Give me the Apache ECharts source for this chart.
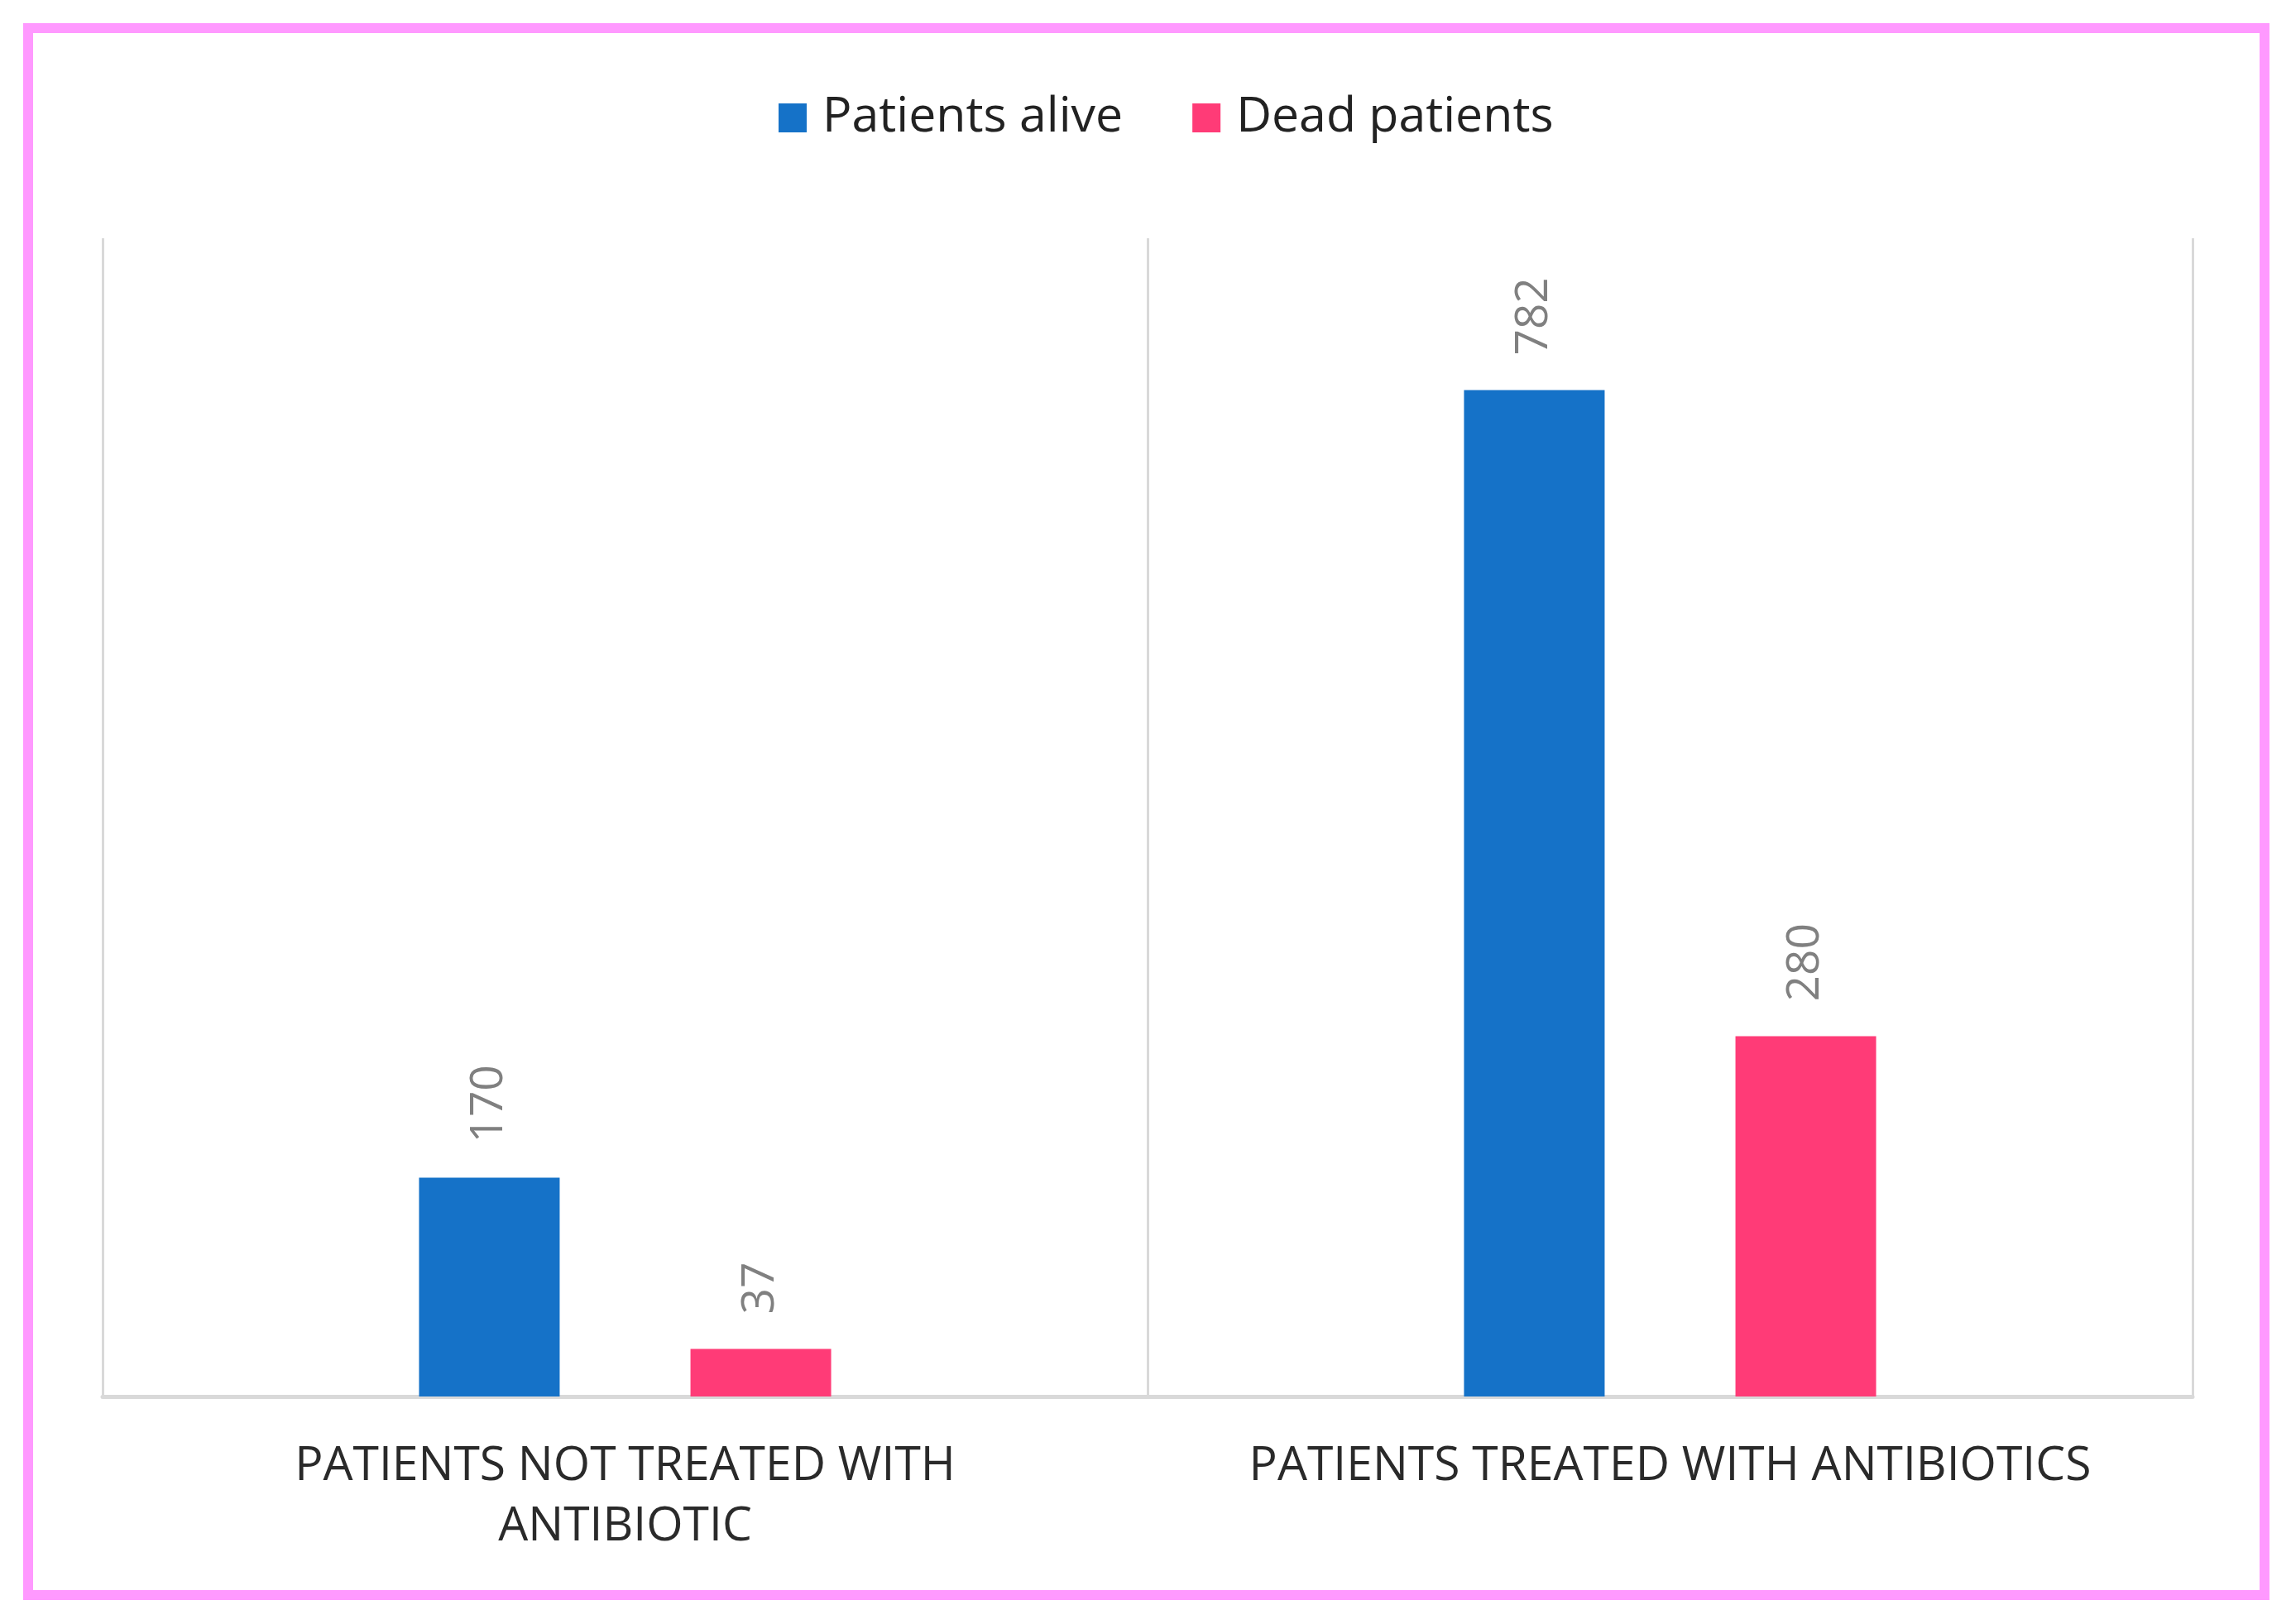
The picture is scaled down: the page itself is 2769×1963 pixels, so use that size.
<!DOCTYPE html>
<html>
<head>
<meta charset="utf-8">
<script src="https://cdn.jsdelivr.net/npm/echarts@6/dist/echarts.min.js"></script>
<style>
  html, body { margin: 0; padding: 0; background: #ffffff; }
  #chart { position: absolute; left: 0; top: 0; width: 2769px; height: 1963px; }
  #frame { position: absolute; left: 28px; top: 28px; width: 2715px; height: 1906px;
           box-sizing: border-box; border: 12px solid #ff99ff; pointer-events: none; }
</style>
</head>
<body>
<div id="chart"></div>
<div id="frame"></div>
<script>
const categories = ['PATIENTS NOT TREATED WITH ANTIBIOTIC', 'PATIENTS TREATED WITH ANTIBIOTICS'];
const seriesNames = ['Patients alive', 'Dead patients'];
const aliveValues = [170, 782];
const deadValues = [37, 280];
const yMax = 900;

function wrapWords(text, maxChars) {
  const words = text.split(' ');
  const lines = [];
  let cur = '';
  words.forEach(w => {
    const next = cur ? cur + ' ' + w : w;
    if (next.length > maxChars && cur) { lines.push(cur); cur = w; }
    else { cur = next; }
  });
  if (cur) lines.push(cur);
  return lines.join('\n');
}

const FONT = 'Open Sans';
const labelCfg = {
  show: true,
  position: 'top',
  rotate: 90,
  align: 'left',
  verticalAlign: 'middle',
  distance: 42,
  fontFamily: FONT,
  fontSize: 55,
  color: '#808080'
};

const chart = echarts.init(document.getElementById('chart'), null, { renderer: 'canvas' });
chart.setOption({
  animation: false,
  backgroundColor: '#ffffff',
  legend: {
    data: seriesNames,
    left: 936,
    top: 108,
    itemWidth: 34,
    itemHeight: 35,
    itemGap: 84,
    icon: 'rect',
    textStyle: { fontFamily: FONT, fontSize: 59, color: '#222222', padding: [0, 0, 0, 14] }
  },
  grid: { left: 124, right: 119, top: 288, bottom: 275, containLabel: false },
  xAxis: {
    type: 'category',
    data: categories,
    axisLine: { show: true, lineStyle: { color: '#d9d9d9', width: 5 } },
    axisTick: { show: false },
    splitLine: { show: true, lineStyle: { color: '#d9d9d9', width: 3 } },
    axisLabel: {
      interval: 0,
      margin: 48,
      fontFamily: FONT,
      fontSize: 57,
      lineHeight: 73,
      color: '#2a2a2a',
      formatter: v => wrapWords(v, 33)
    }
  },
  yAxis: { type: 'value', min: 0, max: yMax, show: false, splitLine: { show: false } },
  series: [
    {
      name: seriesNames[0], type: 'bar', data: aliveValues,
      barWidth: 170, barGap: '93%',
      itemStyle: { color: '#1572c8' },
      label: labelCfg
    },
    {
      name: seriesNames[1], type: 'bar', data: deadValues,
      barWidth: 170,
      itemStyle: { color: '#ff3b77' },
      label: labelCfg
    }
  ]
});
</script>
</body>
</html>
